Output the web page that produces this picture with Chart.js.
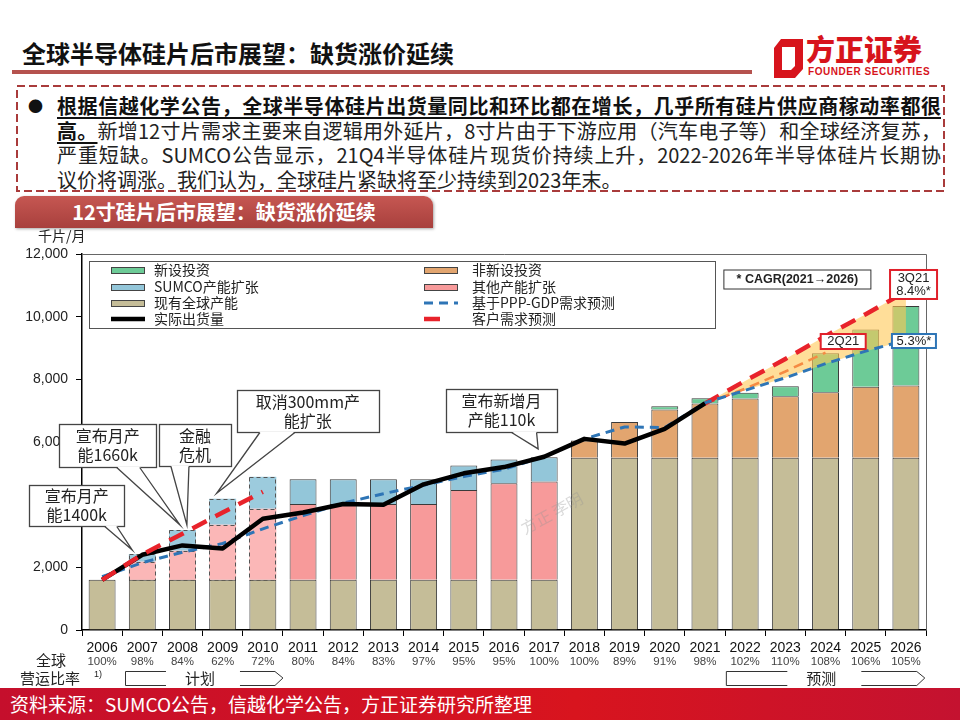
<!DOCTYPE html>
<html>
<head>
<meta charset="utf-8">
<script src="https://cdn.jsdelivr.net/npm/chart.js@4.4.1/dist/chart.umd.min.js"></script>
<style>
  body { margin:0; width:960px; height:720px; position:relative; overflow:hidden; background:#fff;
         font-family:"Noto Sans CJK SC","Noto Sans",sans-serif; }
  .abs { position:absolute; }
  #title { left:22px; top:37px; font-size:24px; font-weight:bold; color:#111; line-height:32px; }
  #rule { left:12px; top:70px; width:740px; height:4px; background:#B5524E; }
  #logoText { left:806px; top:31px; font-size:29px; font-weight:900; color:#D7141C; line-height:34px; }
  #logoSub { left:808px; top:66px; font:bold 10px "Liberation Sans",Arial,sans-serif; color:#D7141C; letter-spacing:0.55px; }
  #bullet { left:28px; top:94px; font-size:15px; line-height:24.6px; color:#111; }
  #para { left:57px; top:94px; width:884px; font-size:20px; line-height:24.6px; color:#222; }
  #para div { text-align:justify; text-align-last:justify; }
  #para div.last { text-align-last:left; }
  #para b { color:#111; text-decoration:underline; text-decoration-thickness:2px; text-underline-offset:3px; }
  #tab { left:15px; top:196px; width:418px; height:32px; border-radius:9px 9px 0 0;
         background:linear-gradient(#C65752,#A8403D); box-shadow:1px 1px 3px rgba(0,0,0,0.35);
         color:#fff; font-size:20px; font-weight:bold; line-height:32px; text-align:center; }
  #chartWrap { left:0; top:228px; width:960px; height:460px; }
  #footer { left:0; top:688px; width:960px; height:32px;
            background:linear-gradient(90deg,#C50F2C 0%,#D8141E 60%,#C41230 100%);
            color:#fff; font-size:19px; line-height:32px; padding-left:10px; box-sizing:border-box; }
</style>
</head>
<body>
<div id="title" class="abs">全球半导体硅片后市展望：缺货涨价延续</div>
<div id="rule" class="abs"></div>
<svg class="abs" style="left:774px;top:39px" width="30" height="39" viewBox="0 0 30 39">
  <path fill="#D7141C" fill-rule="evenodd"
        d="M7 0 L29 0 L29 30 L21 39 L0 39 L0 9 Z M8 8 L21 8 L21 27 L17 31 L8 31 Z"/>
</svg>
<div id="logoText" class="abs">方正证券</div>
<div id="logoSub" class="abs">FOUNDER SECURITIES</div>

<svg class="abs" style="left:16px;top:85px" width="930" height="108">
  <rect x="1" y="1" width="927" height="105" fill="none" stroke="#A93B3B" stroke-width="2" stroke-dasharray="8,4"/>
</svg>
<div id="bullet" class="abs">●</div>
<div id="para" class="abs">
  <div><b>根据信越化学公告，全球半导体硅片出货量同比和环比都在增长，几乎所有硅片供应商稼动率都很</b></div>
  <div><b>高。</b>新增12寸片需求主要来自逻辑用外延片，8寸片由于下游应用（汽车电子等）和全球经济复苏，</div>
  <div>严重短缺。SUMCO公告显示，21Q4半导体硅片现货价持续上升，2022-2026年半导体硅片长期协</div>
  <div class="last">议价将调涨。我们认为，全球硅片紧缺将至少持续到2023年末。</div>
</div>
<div id="tab" class="abs">12寸硅片后市展望：缺货涨价延续</div>

<div id="chartWrap" class="abs"><canvas id="chart" width="960" height="460"></canvas></div>
<div id="footer" class="abs">资料来源：SUMCO公告，信越化学公告，方正证券研究所整理</div>

<script>
// 카테고리 / 값 (단위: 千片/月)
var years = ['2006','2007','2008','2009','2010','2011','2012','2013','2014','2015','2016',
             '2017','2018','2019','2020','2021','2022','2023','2024','2025','2026'];
var utilization = ['100%','98%','84%','62%','72%','80%','84%','83%','97%','95%','95%',
                   '100%','100%','89%','91%','98%','102%','110%','108%','106%','105%'];
var yTicks = [0, 2000, 4000, 6000, 8000, 10000, 12000];

// 막대 (스택, 아래에서 위로)
var existingCapacity = [1600,1600,1600,1600,1600,1600,1600,1600,1600,1600,1600,
                        1600,5500,5500,5500,5500,5500,5500,5500,5500,5500];
var otherExpansion   = [null,580,930,1760,2270,2420,2420,2420,2420,2870,3080,
                        3140,null,null,null,null,null,null,null,null,null];
var sumcoExpansion   = [null,240,660,830,1020,790,790,790,790,780,765,
                        770,null,null,null,null,null,null,null,null,null];
var nonNewInvest     = [null,null,null,null,null,null,null,null,null,null,null,
                        null,550,1140,1540,1730,1890,1960,2090,2260,2300];
var newInvest        = [null,null,null,null,null,null,null,null,null,null,null,
                        null,null,null,100,170,180,320,1240,1830,2540];

// 선
var shipments      = [1600,2400,2700,2600,3550,3750,4020,4000,4650,5000,5200,
                      5530,6100,5950,6420,7230,null,null,null,null,null];
var pppGdpDemand   = [1700,2150,2480,2760,3230,3650,4050,4350,4620,4900,5130,
                      5530,6100,6480,6460,7250,7650,8050,8500,8900,9250];
var customerDemand = [1600,2410,3070,3750,4410,null,null,null,null,null,null,
                      null,null,null,null,null,null,null,null,null,null];
var demand3Q21     = [null,null,null,null,null,null,null,null,null,null,null,
                      null,null,null,null,7230,7950,8650,9380,10080,10800];
var demand2Q21     = [null,null,null,null,null,null,null,null,null,null,null,
                      null,null,null,null,7230,7700,8250,8850,null,null];

// 점선 테두리로 그리는 계획 연도
var plannedYears = ['2007','2008','2009','2010'];

// 범례 배치 (2열)
var legendRows = [
    ['新设投资', '非新设投资'],
    ['SUMCO产能扩张', '其他产能扩张'],
    ['现有全球产能', '基于PPP-GDP需求预测'],
    ['实际出货量', '客户需求预测']
];

// 말풍선: at = 상자 중심(카테고리 index, 값), tip = 꼬리 끝
var callouts = [
    { lines:['宣布月产','能1400k'],   at:[-0.63, 3970], w:95,  h:41, tail:[28, 40],   tip:[0.75, 2550] },
    { lines:['宣布月产','能1660k'],   at:[0.14, 5890],  w:97,  h:43, tail:[9, 32],    tip:[1.94, 3350] },
    { lines:['金融','危机'],          at:[2.31, 5900],  w:72,  h:42, tail:[-24, -6],  tip:[2.11, 3350] },
    { lines:['取消300mm产','能扩张'], at:[5.12, 6990],  w:142, h:42, tail:[-48, -13], tip:[2.85, 4360] },
    { lines:['宣布新增月','产能110k'], at:[9.94, 7005], w:111, h:43, tail:[10, 35],   tip:[10.85, 5780] }
];
var tags = [
    { lines:['* CAGR(2021\u21922026)'], at:[17.3, 11186], w:147, h:19, border:'#333',    lw:1, bold:true },
    { lines:['3Q21','8.4%*'],           at:[20.19, 11027], w:47, h:29, border:'#E0202A', lw:2 },
    { lines:['2Q21'],                   at:[18.44, 9207],  w:45, h:15, border:'#E0202A', lw:2 },
    { lines:['5.3%*'],                  at:[20.2, 9223],   w:44, h:14, border:'#2E75B6', lw:2 }
];
var planSpans = [
    { label:'计划', from:0.57,  to:4.5 },
    { label:'预测', from:15.52, to:20.47 }
];

var isPlanned = function(ctx){ return plannedYears.indexOf(years[ctx.dataIndex]) >= 0; };
var CJK = '"Noto Sans CJK SC","Noto Sans",sans-serif';
var ARIAL = '"Liberation Sans",Arial,sans-serif';

var overlay = {
    id: 'overlay',
    // 계획 연도 막대: 점선 테두리
    afterDatasetDraw: function(chart, args) {
        var ds = chart.data.datasets[args.index];
        if (!ds.dashedPlanned) return;
        var ctx = chart.ctx;
        ctx.save();
        ctx.setLineDash([4, 3]);
        ctx.strokeStyle = '#555';
        ctx.lineWidth = 1;
        args.meta.data.forEach(function(bar, i) {
            if (plannedYears.indexOf(years[i]) < 0 || ds.data[i] == null) return;
            var p = bar.getProps(['x','y','base','width'], true);
            ctx.strokeRect(Math.round(p.x - p.width/2) + 0.5, Math.round(p.y) + 0.5,
                           Math.round(p.width) - 1, Math.round(p.base - p.y));
        });
        ctx.restore();
    },
    afterDraw: function(chart) {
        var ctx = chart.ctx, a = chart.chartArea;
        var xs = chart.scales.x, ys = chart.scales.y;
        var X = function(v){ return xs.getPixelForValue(v); };
        var Y = function(v){ return ys.getPixelForValue(v); };
        ctx.save();

        // 위/오른쪽 테두리
        ctx.strokeStyle = '#666'; ctx.lineWidth = 1;
        ctx.beginPath();
        ctx.moveTo(a.left, a.top + 0.5); ctx.lineTo(a.right + 0.5, a.top + 0.5); ctx.lineTo(a.right + 0.5, a.bottom);
        ctx.stroke();

        // 단위
        ctx.fillStyle = '#222'; ctx.font = '14px ' + CJK;
        ctx.textAlign = 'left'; ctx.textBaseline = 'middle';
        ctx.fillText('千片/月', 38, a.top - 18);

        // 워터마크
        ctx.save();
        ctx.translate(X(11.19), Y(3730));
        ctx.rotate(-0.5);
        ctx.fillStyle = 'rgba(150,150,150,0.35)';
        ctx.font = '16px ' + CJK; ctx.textAlign = 'center';
        ctx.fillText('方正 李明', 0, 0);
        ctx.restore();

        // 범례
        var lx = a.left + 7, ly = a.top + 7;
        ctx.fillStyle = '#fff'; ctx.fillRect(lx, ly, 626, 67);
        ctx.strokeStyle = '#555'; ctx.lineWidth = 1;
        ctx.strokeRect(lx + 0.5, ly + 0.5, 626, 67);
        var colSym = [22, 335], colTxt = [65, 383], rowY = [9, 26, 42, 58];
        legendRows.forEach(function(row, r) {
            row.forEach(function(label, c) {
                var ds = chart.data.datasets.find(function(d){ return d.label === label; });
                var sx = lx + colSym[c], sy = ly + rowY[r];
                if (ds.type === 'line') {
                    ctx.save();
                    ctx.strokeStyle = ds.borderColor; ctx.lineWidth = ds.borderWidth;
                    ctx.setLineDash(ds.borderDash || []);
                    ctx.lineCap = 'butt';
                    ctx.beginPath(); ctx.moveTo(sx, sy); ctx.lineTo(sx + (ds.borderDash && ds.borderWidth > 3 ? 19 : 34), sy); ctx.stroke();
                    ctx.restore();
                } else {
                    ctx.fillStyle = ds.swatch; ctx.fillRect(sx, sy - 3, 33, 7);
                    ctx.strokeStyle = '#444'; ctx.strokeRect(sx + 0.5, sy - 2.5, 33, 6);
                }
                ctx.fillStyle = '#222'; ctx.font = '14px ' + CJK;
                ctx.textAlign = 'left'; ctx.textBaseline = 'middle';
                ctx.fillText(label, lx + colTxt[c], sy);
            });
        });

        // 말풍선
        callouts.forEach(function(c) {
            var cx = X(c.at[0]), cy = Y(c.at[1]);
            var l = Math.round(cx - c.w/2) + 0.5, t = Math.round(cy - c.h/2) + 0.5, b = t + c.h;
            var tx = X(c.tip[0]), ty = Y(c.tip[1]);
            var b1 = cx + c.tail[0], b2 = cx + c.tail[1];
            ctx.fillStyle = '#fff'; ctx.strokeStyle = '#444'; ctx.lineWidth = 1.3;
            ctx.fillRect(l, t, c.w, c.h); ctx.strokeRect(l, t, c.w, c.h);
            ctx.beginPath(); ctx.moveTo(b1, b - 1); ctx.lineTo(tx, ty); ctx.lineTo(b2, b - 1); ctx.closePath(); ctx.fill();
            ctx.beginPath(); ctx.moveTo(b1, b); ctx.lineTo(tx, ty); ctx.lineTo(b2, b); ctx.stroke();
            ctx.fillStyle = '#222'; ctx.font = '16px ' + CJK;
            ctx.textAlign = 'center'; ctx.textBaseline = 'middle';
            ctx.fillText(c.lines[0], cx, cy - 9.5);
            ctx.fillText(c.lines[1], cx, cy + 9.5);
        });

        // 태그 상자
        tags.forEach(function(g) {
            var cx = X(g.at[0]), cy = Y(g.at[1]);
            ctx.fillStyle = '#fff'; ctx.strokeStyle = g.border; ctx.lineWidth = g.lw;
            ctx.fillRect(cx - g.w/2, cy - g.h/2, g.w, g.h);
            ctx.strokeRect(cx - g.w/2, cy - g.h/2, g.w, g.h);
            ctx.fillStyle = '#222';
            ctx.font = (g.bold ? 'bold 12.5px ' : '13px ') + ARIAL;
            ctx.textAlign = 'center'; ctx.textBaseline = 'middle';
            var n = g.lines.length;
            g.lines.forEach(function(s, k) { ctx.fillText(s, cx, cy + (k - (n - 1)/2) * 13); });
        });

        // 가동률
        ctx.fillStyle = '#444'; ctx.font = '11.5px ' + ARIAL;
        ctx.textAlign = 'center'; ctx.textBaseline = 'middle';
        utilization.forEach(function(u, i){ ctx.fillText(u, X(i), a.bottom + 32); });
        ctx.fillStyle = '#222'; ctx.font = '15px ' + CJK;
        ctx.fillText('全球', 51, a.bottom + 30);
        ctx.fillText('营运比率', 50, a.bottom + 48);
        ctx.font = '9px ' + ARIAL;
        ctx.fillText('1)', X(-0.1), a.bottom + 45);

        // 계획 / 예측 화살표
        var top = a.bottom + 41, bot = a.bottom + 55, mid = (top + bot) / 2;
        planSpans.forEach(function(s) {
            var x0 = X(s.from), x1 = X(s.to), m = (x0 + x1) / 2;
            ctx.strokeStyle = '#333'; ctx.lineWidth = 1;
            ctx.beginPath();
            ctx.moveTo(m - 38, top + 0.5); ctx.lineTo(x0 + 0.5, top + 0.5); ctx.lineTo(x0 + 0.5, bot + 0.5); ctx.lineTo(m - 38, bot + 0.5);
            ctx.moveTo(m + 36, top + 0.5); ctx.lineTo(x1 - 8, top + 0.5); ctx.lineTo(x1, mid); ctx.lineTo(x1 - 8, bot + 0.5); ctx.lineTo(m + 36, bot + 0.5);
            ctx.stroke();
            ctx.fillStyle = '#222'; ctx.font = '15px ' + CJK;
            ctx.fillText(s.label, m - 4, mid);
        });
        ctx.restore();
    }
};

var barBase = { type:'bar', order:10, borderColor:'#3a3a3a', barPercentage:0.67, categoryPercentage:1.0 };
function bar(label, data, color, planColor, dashed) {
    return Object.assign({}, barBase, {
        label: label, data: data, swatch: color,
        backgroundColor: planColor ? function(ctx){ return isPlanned(ctx) ? planColor : color; } : color,
        borderWidth: dashed ? function(ctx){ return isPlanned(ctx) ? 0 : 1; } : 1,
        dashedPlanned: !!dashed
    });
}

var datasets = [
    bar('现有全球产能', existingCapacity, '#C5BD98'),
    bar('其他产能扩张', otherExpansion, '#F79A9A', '#FBB7B7', true),
    bar('SUMCO产能扩张', sumcoExpansion, '#93C6D9', '#9CCBDD', true),
    bar('非新设投资', nonNewInvest, '#E2A56F'),
    bar('新设投资', newInvest, '#6DCB97'),
    { type:'line', label:'客户需求预测(2Q21)', data:demand2Q21, stack:'l5', order:5,
      borderColor:'#E5302A', borderWidth:2.5, borderDash:[10,6], pointRadius:0, tension:0, fill:false },
    { type:'line', label:'客户需求预测(3Q21)', data:demand3Q21, stack:'l4', order:4,
      borderColor:'#E8232B', borderWidth:4.5, borderDash:[16,10], pointRadius:0, tension:0,
      fill:{ target:7 }, backgroundColor:'rgba(255,200,85,0.6)' },
    { type:'line', label:'基于PPP-GDP需求预测', data:pppGdpDemand, stack:'l3', order:3,
      borderColor:'#2E75B6', borderWidth:3, borderDash:[9,6], pointRadius:0, tension:0, fill:false },
    { type:'line', label:'实际出货量', data:shipments, stack:'l2', order:2,
      borderColor:'#000', borderWidth:4.5, pointRadius:0, tension:0, fill:false,
      borderJoinStyle:'round' },
    { type:'line', label:'客户需求预测', data:customerDemand, stack:'l1', order:1,
      borderColor:'#E8232B', borderWidth:4.5, borderDash:[16,10], pointRadius:0, tension:0, fill:false }
];

var chart = new Chart(document.getElementById('chart').getContext('2d'), {
    type: 'bar',
    data: { labels: years, datasets: datasets },
    options: {
        responsive: false,
        animation: false,
        layout: { padding: { top:26, right:34, left:0, bottom:0 } },
        plugins: { legend:{ display:false }, tooltip:{ enabled:false } },
        scales: {
            x: {
                stacked: true, offset: true,
                grid: { drawOnChartArea:false, offset:true, tickLength:6, color:'#000' },
                border: { color:'#000', width:1.5 },
                ticks: { color:'#111', font:{ size:14, family:ARIAL }, padding:4, maxRotation:0, autoSkip:false },
                afterFit: function(s){ s.height = 58; }
            },
            y: {
                stacked: true, min:0, max:12000,
                afterBuildTicks: function(s){ s.ticks = yTicks.map(function(v){ return { value:v }; }); },
                grid: { drawOnChartArea:false, tickLength:6, color:'#000' },
                border: { color:'#000', width:1.5 },
                ticks: { color:'#222', font:{ size:14, family:ARIAL }, padding:8,
                         callback: function(v){ return v.toLocaleString('en-US'); } },
                afterFit: function(s){ s.width = 82; }
            }
        }
    },
    plugins: [overlay]
});
</script>
</body>
</html>
